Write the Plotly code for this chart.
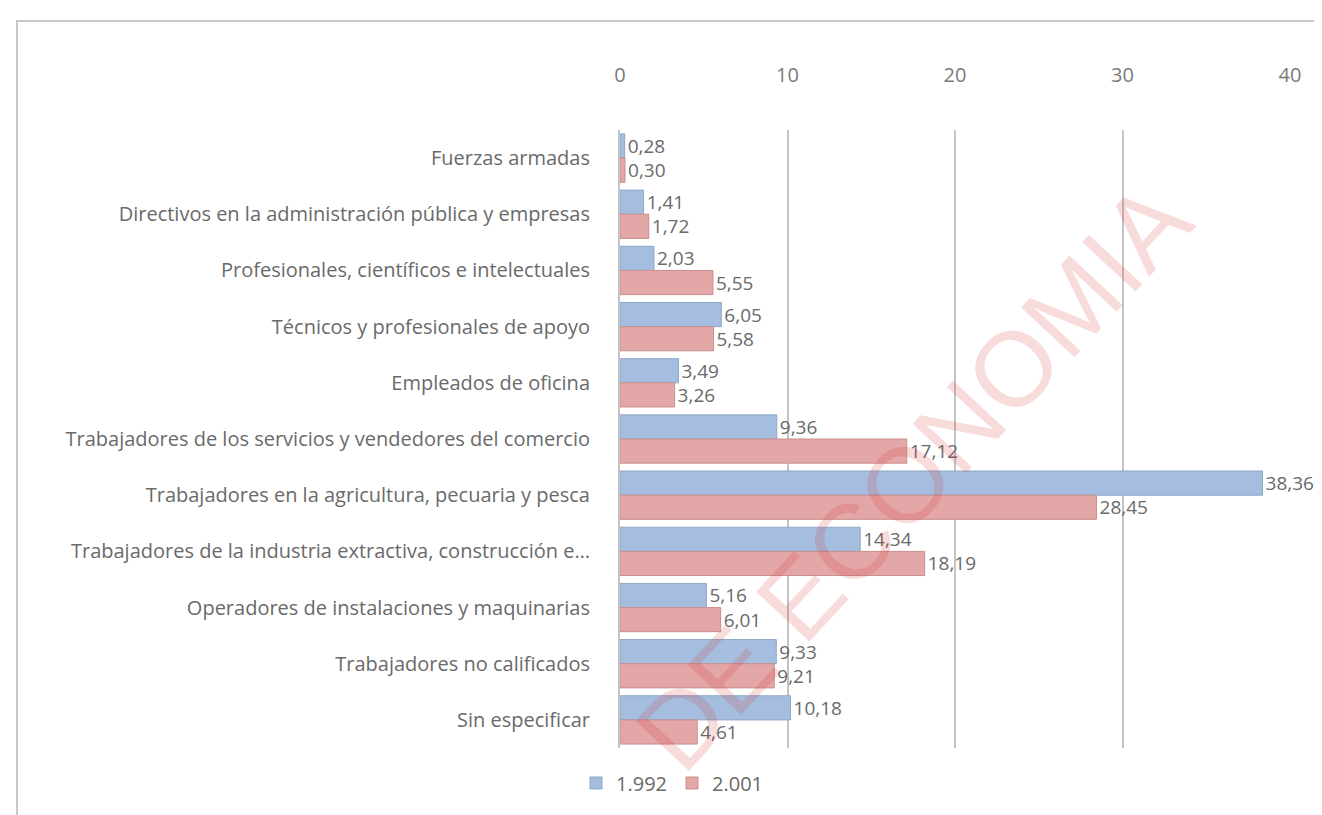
import plotly.graph_objects as go

categories = [
    "Fuerzas armadas",
    "Directivos en la administración pública y empresas",
    "Profesionales, científicos e intelectuales",
    "Técnicos y profesionales de apoyo",
    "Empleados de oficina",
    "Trabajadores de los servicios y vendedores del comercio",
    "Trabajadores en la agricultura, pecuaria y pesca",
    "Trabajadores de la industria extractiva, construcción e…",
    "Operadores de instalaciones y maquinarias",
    "Trabajadores no calificados",
    "Sin especificar",
]
values_1992 = [0.28, 1.41, 2.03, 6.05, 3.49, 9.36, 38.36, 14.34, 5.16, 9.33, 10.18]
values_2001 = [0.30, 1.72, 5.55, 5.58, 3.26, 17.12, 28.45, 18.19, 6.01, 9.21, 4.61]
series_names = ["1.992", "2.001"]
tick_vals = [0, 10, 20, 30, 40]
watermark = "DE ECONOMIA"

W, H = 1322, 815
L, R, T, B = 612, 1282, 122, 740

def fmt(v):
    return f"{v:.2f}".replace(".", ",")

FONT = "Open Sans"
GRAY = "#6a6a6a"

fig = go.Figure()
for name, vals, col, line in [
    (series_names[0], values_1992, "#a5bedf", "#8ea7c8"),
    (series_names[1], values_2001, "#e2a7a6", "#c98f8e"),
]:
    fig.add_trace(go.Bar(
        y=categories, x=vals, orientation="h", name=name,
        marker=dict(color=col, line=dict(color=line, width=1)),
        text=[fmt(v) for v in vals], textposition="outside",
        textfont=dict(family=FONT, size=19, color=GRAY),
        constraintext="none",
        cliponaxis=False,
    ))

def px(x):
    return (x - L) / (R - L)

def py(y):
    return (B - y) / (B - T)

shapes = [
    dict(type="line", xref="paper", yref="paper", x0=px(8), x1=px(1322), y0=py(13), y1=py(13),
         line=dict(color="#c8c8c8", width=2)),
    dict(type="line", xref="paper", yref="paper", x0=px(9), x1=px(9), y0=py(13), y1=py(815),
         line=dict(color="#c8c8c8", width=2)),
]

fig.update_layout(
    width=W, height=H,
    margin=dict(l=L, r=W - R, t=T, b=H - B),
    paper_bgcolor="white", plot_bgcolor="white",
    barmode="group", bargap=0.14, bargroupgap=0.0,
    font=dict(family=FONT, color=GRAY, size=20),
    showlegend=True,
    legend=dict(orientation="h", x=px(568), y=py(775), xanchor="left", yanchor="middle",
                font=dict(family=FONT, size=20, color=GRAY), traceorder="normal",
                itemwidth=30),
    xaxis=dict(side="top", range=[0, 40], tickvals=tick_vals, showgrid=True,
               gridcolor="#c4c4c4", gridwidth=2, zeroline=False, showline=False,
               tickfont=dict(family=FONT, size=20, color="#7a7a7a"), ticklabelstandoff=43),
    yaxis=dict(autorange="reversed", showgrid=False, showline=True, linecolor="#c4c4c4",
               linewidth=2, tickfont=dict(family=FONT, size=20, color=GRAY),
               ticklabelstandoff=24),
    shapes=shapes,
    annotations=[dict(
        text=watermark, xref="paper", yref="paper",
        x=px(905), y=py(468), showarrow=False, textangle=-47,
        font=dict(family="Liberation Sans", size=106, color="rgba(215,50,50,0.17)"),
    )],
)

fig.write_html("out.html")
